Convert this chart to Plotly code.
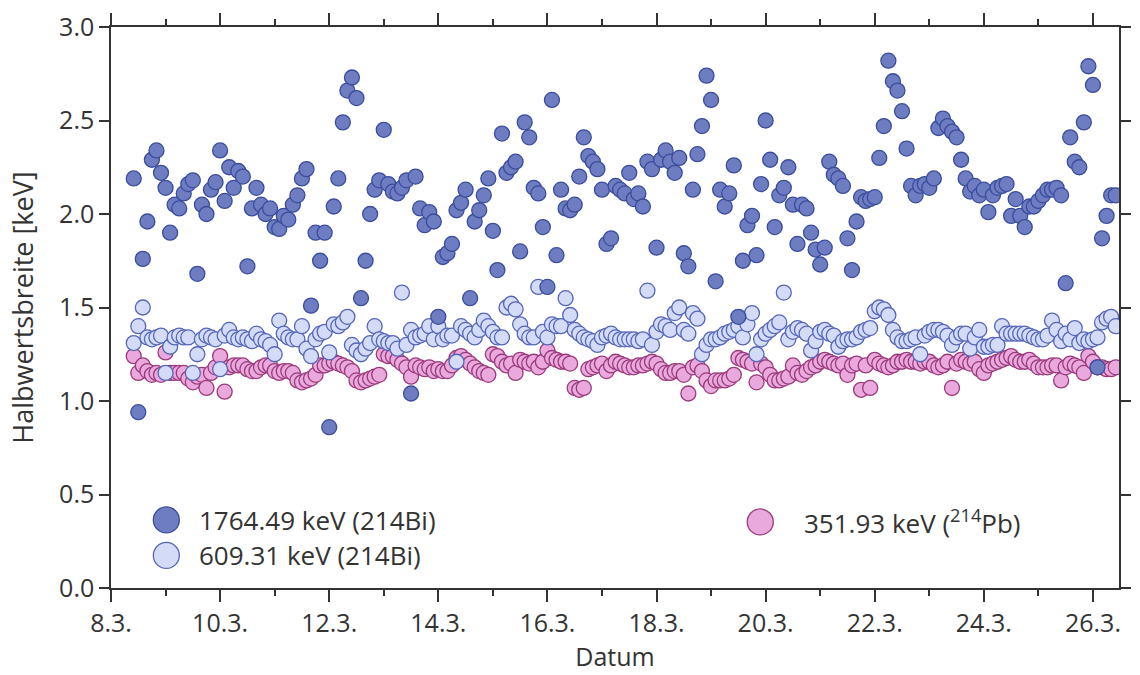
import pandas as pd
import plotly.graph_objects as go

# Peak FWHM (keV) from consecutive 2-hour gamma spectra,
# starting 8 March 10:00; one line per calendar day.
fwhm_1764 = [
    2.19, 0.94, 1.76, 1.96, 2.29, 2.34, 2.22,                                  # 8.3.
    2.14, 1.90, 2.05, 2.03, 2.11, 2.16, 2.18, 1.68, 2.05, 2.00, 2.13, 2.17,    # 9.3.
    2.34, 2.07, 2.25, 2.14, 2.23, 2.20, 1.72, 2.03, 2.14, 2.05, 2.00, 2.03,    # 10.3.
    1.93, 1.92, 1.99, 1.97, 2.05, 2.10, 2.19, 2.24, 1.51, 1.90, 1.75, 1.90,    # 11.3.
    0.86, 2.04, 2.19, 2.49, 2.66, 2.73, 2.62, 1.55, 1.75, 2.00, 2.13, 2.18,    # 12.3.
    2.45, 2.16, 2.12, 2.11, 2.14, 2.18, 1.04, 2.20, 2.03, 1.94, 2.01, 1.96,    # 13.3.
    1.45, 1.77, 1.79, 1.84, 2.02, 2.06, 2.13, 1.55, 1.96, 2.02, 2.10, 2.19,    # 14.3.
    1.91, 1.70, 2.43, 2.22, 2.25, 2.28, 1.80, 2.49, 2.41, 2.14, 2.11, 1.93,    # 15.3.
    1.61, 2.61, 1.78, 2.13, 2.03, 2.02, 2.05, 2.20, 2.41, 2.31, 2.28, 2.24,    # 16.3.
    2.13, 1.84, 1.87, 2.15, 2.13, 2.11, 2.22, 2.08, 2.11, 2.04, 2.28, 2.24,    # 17.3.
    1.82, 2.29, 2.34, 2.28, 2.22, 2.30, 1.79, 1.72, 2.13, 2.32, 2.47, 2.74,    # 18.3.
    2.61, 1.64, 2.13, 2.04, 2.11, 2.26, 1.45, 1.75, 1.94, 1.99, 1.78, 2.16,    # 19.3.
    2.50, 2.29, 1.93, 2.10, 2.14, 2.25, 2.05, 1.84, 2.05, 2.03, 1.90, 1.81,    # 20.3.
    1.73, 1.82, 2.28, 2.21, 2.19, 2.15, 1.87, 1.70, 1.96, 2.09, 2.07, 2.08,    # 21.3.
    2.09, 2.30, 2.47, 2.82, 2.71, 2.66, 2.55, 2.35, 2.15, 2.10, 2.15, 2.16,    # 22.3.
    2.14, 2.19, 2.46, 2.51, 2.47, 2.44, 2.41, 2.29, 2.19, 2.12, 2.15, 2.10,    # 23.3.
    2.13, 2.01, 2.10, 2.14, 2.15, 2.16, 1.99, 2.08, 1.99, 1.93, 2.04, 2.04,    # 24.3.
    2.07, 2.10, 2.13, 2.13, 2.14, 2.10, 1.63, 2.41, 2.28, 2.25, 2.49, 2.79,    # 25.3.
    2.69, 1.18, 1.87, 1.99, 2.10, 2.10,                                        # 26.3.
]

fwhm_609 = [
    1.31, 1.40, 1.50, 1.34, 1.33, 1.34, 1.35,
    1.15, 1.29, 1.34, 1.35, 1.34, 1.34, 1.15, 1.25, 1.33, 1.35, 1.34, 1.33,
    1.17, 1.35, 1.38, 1.34, 1.33, 1.34, 1.33, 1.32, 1.36, 1.33, 1.32, 1.30,
    1.25, 1.43, 1.36, 1.34, 1.33, 1.33, 1.40, 1.28, 1.24, 1.33, 1.36, 1.37,
    1.26, 1.41, 1.40, 1.42, 1.45, 1.30, 1.27, 1.25, 1.28, 1.31, 1.40, 1.33,
    1.32, 1.31, 1.31, 1.28, 1.58, 1.30, 1.38, 1.34, 1.35, 1.36, 1.40, 1.33,
    1.40, 1.33, 1.35, 1.35, 1.21, 1.40, 1.38, 1.36, 1.34, 1.38, 1.43, 1.40,
    1.37, 1.34, 1.34, 1.50, 1.52, 1.49, 1.41, 1.36, 1.34, 1.34, 1.61, 1.37,
    1.34, 1.41, 1.40, 1.40, 1.55, 1.46, 1.38, 1.36, 1.34, 1.33, 1.32, 1.30,
    1.34, 1.35, 1.36, 1.34, 1.33, 1.33, 1.33, 1.33, 1.32, 1.33, 1.59, 1.30,
    1.37, 1.41, 1.40, 1.38, 1.47, 1.50, 1.38, 1.36, 1.47, 1.44, 1.25, 1.30,
    1.33, 1.33, 1.34, 1.36, 1.37, 1.38, 1.40, 1.34, 1.41, 1.47, 1.25, 1.33,
    1.36, 1.38, 1.40, 1.42, 1.58, 1.33, 1.37, 1.39, 1.38, 1.36, 1.27, 1.32,
    1.37, 1.38, 1.36, 1.35, 1.29, 1.32, 1.33, 1.33, 1.34, 1.37, 1.38, 1.39,
    1.48, 1.50, 1.49, 1.46, 1.38, 1.34, 1.32, 1.32, 1.33, 1.34, 1.25, 1.35,
    1.37, 1.38, 1.38, 1.37, 1.35, 1.30, 1.34, 1.36, 1.36, 1.28, 1.34, 1.38,
    1.29, 1.29, 1.30, 1.30, 1.40, 1.36, 1.36, 1.36, 1.36, 1.36, 1.35, 1.34,
    1.33, 1.33, 1.35, 1.43, 1.38, 1.32, 1.36, 1.33, 1.39, 1.31, 1.33, 1.32,
    1.33, 1.34, 1.42, 1.44, 1.45, 1.40,
]

fwhm_352 = [
    1.24, 1.15, 1.19, 1.16, 1.14, 1.15, 1.14,
    1.26, 1.15, 1.15, 1.15, 1.15, 1.12, 1.10, 1.13, 1.14, 1.07, 1.15, 1.18,
    1.24, 1.05, 1.18, 1.19, 1.19, 1.19, 1.17, 1.16, 1.16, 1.18, 1.19, 1.19,
    1.16, 1.15, 1.16, 1.16, 1.15, 1.11, 1.10, 1.11, 1.12, 1.14, 1.19, 1.19,
    1.20, 1.21, 1.20, 1.19, 1.18, 1.16, 1.11, 1.10, 1.11, 1.12, 1.13, 1.14,
    1.25, 1.24, 1.24, 1.22, 1.20, 1.18, 1.13, 1.19, 1.18, 1.17, 1.18, 1.16,
    1.17, 1.16, 1.16, 1.19, 1.23, 1.24, 1.22, 1.20, 1.18, 1.16, 1.15, 1.14,
    1.25, 1.24, 1.21, 1.19, 1.20, 1.15, 1.22, 1.21, 1.20, 1.21, 1.18, 1.21,
    1.27, 1.23, 1.22, 1.21, 1.21, 1.20, 1.07, 1.06, 1.07, 1.17, 1.18, 1.19,
    1.20, 1.16, 1.19, 1.21, 1.20, 1.19, 1.18, 1.18, 1.19, 1.19, 1.20, 1.21,
    1.20, 1.17, 1.15, 1.15, 1.16, 1.16, 1.14, 1.04, 1.18, 1.19, 1.16, 1.11,
    1.08, 1.11, 1.11, 1.11, 1.12, 1.14, 1.23, 1.22, 1.21, 1.20, 1.10, 1.20,
    1.18, 1.14, 1.11, 1.11, 1.12, 1.13, 1.19, 1.15, 1.14, 1.16, 1.18, 1.19,
    1.21, 1.22, 1.21, 1.20, 1.19, 1.20, 1.14, 1.19, 1.20, 1.06, 1.19, 1.07,
    1.22, 1.20, 1.19, 1.18, 1.19, 1.21, 1.21, 1.22, 1.21, 1.21, 1.20, 1.21,
    1.21, 1.19, 1.18, 1.19, 1.21, 1.07, 1.20, 1.22, 1.21, 1.20, 1.21, 1.17,
    1.15, 1.19, 1.20, 1.21, 1.22, 1.23, 1.24, 1.22, 1.21, 1.21, 1.22, 1.20,
    1.18, 1.18, 1.18, 1.19, 1.19, 1.11, 1.18, 1.20, 1.19, 1.18, 1.15, 1.24,
    1.21, 1.18, 1.18, 1.17, 1.17, 1.18,
]

labels = ["1764.49 keV (214Bi)", "609.31 keV (214Bi)", "351.93 keV (<sup>214</sup>Pb)"]
fills = ["#6e7dc2", "#d3dbf6", "#eaa9dc"]
edges = ["#3a4c9c", "#5566ba", "#9a3a7c"]

times = pd.date_range("2016-03-08 10:00", periods=len(fwhm_1764), freq="2h")

FONT = "Open Sans, Segoe UI, sans-serif"
INK = "#333333"

fig = go.Figure()
# draw order: Pb band first, then the Bi lines on top
for vals, i in ((fwhm_352, 2), (fwhm_609, 1), (fwhm_1764, 0)):
    fig.add_trace(go.Scatter(
        x=times, y=vals, mode="markers", name=labels[i], showlegend=False,
        marker=dict(size=15, color=fills[i], line=dict(color=edges[i], width=1.3)),
    ))

# legend: large circle swatches with text
L, R, T, B = 111, 9, 22, 84
W, H = 1140 - L - R, 675 - T - B
legend_items = [(0, 167, 522, 198), (1, 167, 558, 198), (2, 768, 524, 810)]
for i, cx, cy, tx in legend_items:
    px, py = (cx - L) / W, (675 - B - cy) / H
    fig.add_shape(type="circle", xref="paper", yref="paper",
                  xsizemode="pixel", ysizemode="pixel",
                  xanchor=px, yanchor=py, x0=-13, x1=13, y0=-13, y1=13,
                  fillcolor=fills[i], line=dict(color=edges[i], width=1.3))
    fig.add_annotation(text=labels[i], xref="paper", yref="paper",
                       x=(tx - L) / W, y=py, xanchor="left", yanchor="middle",
                       showarrow=False, font=dict(family=FONT, size=26, color=INK))

axis_common = dict(
    showline=True, linecolor=INK, linewidth=1.5, mirror="ticks",
    ticks="outside", tickcolor=INK, tickwidth=1.5, showgrid=False, zeroline=False,
    tickfont=dict(family=FONT, size=25, color=INK),
)

fig.update_xaxes(
    type="date", range=["2016-03-08 00:00", "2016-03-26 11:28"],
    tick0="2016-03-08", dtick=2 * 86400000, tickformat="%-d.%-m.",
    ticklen=12,
    minor=dict(dtick=86400000, ticks="outside", ticklen=6, tickcolor=INK, tickwidth=1.5),
    title=dict(text="Datum", font=dict(family=FONT, size=25, color=INK), standoff=10),
    **axis_common,
)
fig.update_yaxes(
    range=[0, 3.0], dtick=0.5, tick0=0, tickformat=".1f", ticklen=10,
    title=dict(text="Halbwertsbreite [keV]", font=dict(family=FONT, size=27, color=INK), standoff=18),
    **axis_common,
)

fig.update_layout(
    width=1140, height=675,
    margin=dict(l=L, r=R, t=T, b=B),
    plot_bgcolor="white", paper_bgcolor="white",
    font=dict(family=FONT, color=INK),
)

fig.write_html("out.html")
